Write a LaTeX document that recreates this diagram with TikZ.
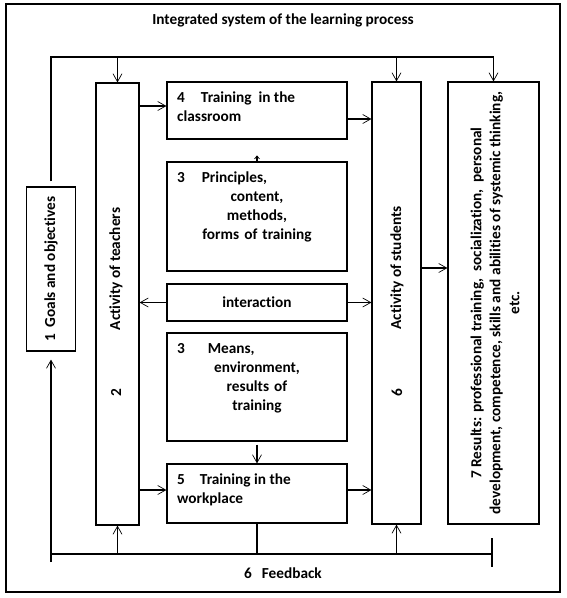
\documentclass[tikz,border=0pt]{standalone}
\usepackage{fontspec}
\setmainfont{Carlito}[Ligatures=NoCommon]
\usetikzlibrary{arrows.meta}
\tikzset{
  blk/.style={rectangle,draw,line width=1.2pt,inner sep=0pt},
  txt/.style={inner sep=0pt,font=\bfseries\fontsize{15.3}{19}\selectfont},
  vtxt/.style={txt,rotate=90},
  ln/.style={line width=1.2pt},
  arr/.style={-{Straight Barb[length=8pt,width=9pt,line width=0.7pt]},line width=1.2pt},
  tip/.style={-{Straight Barb[length=3pt,width=5pt,line width=0.7pt]},line width=1.2pt},
}
\begin{document}
\begin{tikzpicture}[x=1pt,y=-1pt]
  \useasboundingbox (0,0) rectangle (567,598);
  \node[blk,minimum width=554pt,minimum height=588pt] (frame) at (283,298) {};
  \node[txt] (title) at (283,20) {Integrated system of the learning process};
  % boxes
  \node[blk,minimum width=49pt,minimum height=164pt] (goals) at (51,269) {};
  \node[blk,minimum width=43pt,minimum height=442pt] (teach) at (117.5,304) {};
  \node[blk,minimum width=180pt,minimum height=57pt] (class) at (257,110.5) {};
  \node[blk,minimum width=180pt,minimum height=109pt] (princ) at (257,216.5) {};
  \node[blk,txt,minimum width=180pt,minimum height=37pt] (inter) at (257,302.5) {interaction};
  \node[blk,minimum width=180pt,minimum height=108pt] (means) at (257,387) {};
  \node[blk,minimum width=180pt,minimum height=59pt] (work) at (257,493.5) {};
  \node[blk,minimum width=49pt,minimum height=442pt] (stud) at (396.5,303) {};
  \node[blk,minimum width=91pt,minimum height=442pt] (res) at (493.5,303) {};
  % texts
  \node[vtxt] (goalstxt) at (goals.center) {1\hspace{6pt}Goals and objectives};
  \node[vtxt] (teachtxt) at (116,269) {Activity of teachers};
  \node[vtxt] (teachno) at (116,393) {2};
  \node[vtxt] (studtxt) at (397,268) {Activity of students};
  \node[vtxt] (studno) at (397,393) {6};
  \node[vtxt,align=center] (restxt) at (495,303) {7 Results: professional training,\ \ socialization,\ \ personal\\development, competence, skills and abilities of systemic thinking,\\etc.};
  \node[txt,anchor=north west,align=left] (classtxt) at (177,92) {4\hspace{16pt}Training\ \ in the\\classroom};
  \node[txt,anchor=north,text width=170pt,align=center] (princtxt) at (257,171.5)
    {\makebox[170pt][l]{\hspace*{5pt}3\hspace{17pt}Principles,}\\content,\\methods,\\forms of training};
  \node[txt,anchor=north,text width=170pt,align=center] (meanstxt) at (257,343.5)
    {\makebox[170pt][l]{\hspace*{5pt}3\hspace{23pt}Means,}\\environment,\\results of\\training};
  \node[txt,anchor=north west,align=left] (worktxt) at (177,474) {5\hspace{15pt}Training in the\\workplace};
  \node[txt] (fbtxt) at (283,573) {6\hspace{10pt}Feedback};
  % top line
  \coordinate (topr) at (493.5,57);
  \coordinate (botl) at (51,554);
  \coordinate (botr) at (492,554);
  \coordinate (botend) at (51,562);
  \draw[ln] ([yshift=5pt]goals.north) |- (topr);
  \draw[arr] (teach.north |- topr) -- (teach.north);
  \draw[arr] (stud.north |- topr) -- (stud.north);
  \draw[arr] (res.north |- topr) -- (res.north);
  % inner arrows
  \draw[arr] (teach.east |- 0,106) -- (class.west |- 0,106);
  \draw[arr] (class.east |- 0,119) -- (stud.west |- 0,119);
  \draw[tip] (princ.north) -- ++(0,-6);
  \draw[arr] (inter.west) -- (teach.east |- inter.west);
  \draw[arr] (inter.east) -- (stud.west |- inter.east);
  \draw[arr] ([yshift=-3pt]means.south) -- (work.north);
  \draw[arr] (teach.east |- 0,490) -- (work.west |- 0,490);
  \draw[arr] (work.east |- 0,490) -- (stud.west |- 0,490);
  \draw[arr] (stud.east |- 0,268) -- (res.west |- 0,268);
  % feedback
  \draw[ln] (botl) -- (botr);
  \draw[ln] ([yshift=16pt]botr) -- ([yshift=-13pt]botr);
  \draw[ln] (work.south) -- (work.south |- botl);
  \draw[arr] (teach.south |- botl) -- (teach.south);
  \draw[arr] (stud.south |- botl) -- (stud.south);
  \draw[arr] (botend) -- ([yshift=-8pt]goals.south);
\end{tikzpicture}
\end{document}
